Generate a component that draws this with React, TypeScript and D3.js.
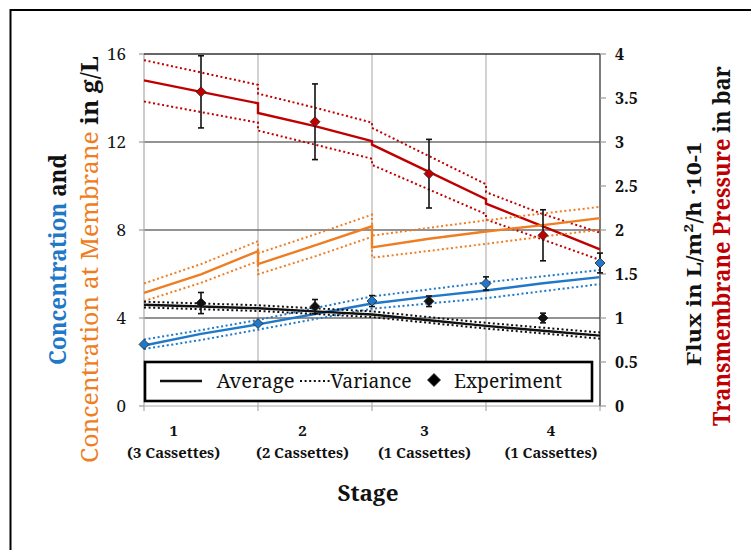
import React from "react";
import * as d3 from "d3";

// ---------- data ----------
const stageX = [0, 0.5, 1, 1, 1.5, 2, 2, 2.5, 3, 3, 3.5, 4];

// Transmembrane pressure (bar, right axis)
const tmpAvg = [3.7, 3.57, 3.44, 3.33, 3.18, 3.01, 2.97, 2.66, 2.35, 2.3, 2.04, 1.78];
const tmpUp = [3.93, 3.79, 3.65, 3.55, 3.39, 3.22, 3.16, 2.84, 2.52, 2.43, 2.18, 1.97];
const tmpLo = [3.46, 3.34, 3.22, 3.13, 2.97, 2.81, 2.74, 2.46, 2.18, 2.12, 1.89, 1.66];

// Concentration at membrane (g/L, left axis)
const memAvg = [5.14, 5.98, 7.04, 6.45, 7.3, 8.17, 7.21, 7.6, 7.93, 7.93, 8.22, 8.54];
const memUp = [5.57, 6.45, 7.49, 6.94, 7.8, 8.7, 7.74, 8.1, 8.44, 8.44, 8.75, 9.05];
const memLo = [4.77, 5.6, 6.58, 5.99, 6.8, 7.69, 6.74, 7.05, 7.37, 7.37, 7.7, 8.01];

// Concentration (g/L, left axis)
const concAvg = [2.75, 3.28, 3.71, 3.71, 4.18, 4.66, 4.66, 4.97, 5.25, 5.25, 5.58, 5.86];
const concUp = [3.02, 3.45, 3.91, 3.91, 4.45, 4.98, 4.98, 5.3, 5.62, 5.62, 5.9, 6.18];
const concLo = [2.59, 3.0, 3.47, 3.47, 3.95, 4.42, 4.42, 4.66, 4.9, 4.9, 5.22, 5.54];

// Flux (L/m²/h ·10-1, right axis)
const fluxAvg = [1.15, 1.13, 1.11, 1.11, 1.075, 1.04, 1.04, 0.975, 0.91, 0.91, 0.855, 0.8];
const fluxUp = [1.185, 1.165, 1.145, 1.145, 1.11, 1.075, 1.075, 1.01, 0.945, 0.945, 0.89, 0.835];
const fluxLo = [1.12, 1.1, 1.08, 1.08, 1.045, 1.01, 1.01, 0.945, 0.88, 0.88, 0.825, 0.765];

// Experiments
const tmpExpX = [0.5, 1.5, 2.5, 3.5];
const tmpExpY = [3.57, 3.23, 2.64, 1.94];
const tmpExpErr = [0.41, 0.43, 0.39, 0.29];

const concExpX = [0, 1, 2, 3, 4];
const concExpY = [2.8, 3.75, 4.77, 5.57, 6.5];
const concExpErr = [0, 0, 0.25, 0.3, 0.45];

const fluxExpX = [0.5, 1.5, 2.5, 3.5];
const fluxExpY = [1.17, 1.13, 1.19, 1.0];
const fluxExpErr = [0.12, 0.08, 0.06, 0.055];

const leftTicks = [0, 4, 8, 12, 16];
const rightTicks = [0, 0.5, 1, 1.5, 2, 2.5, 3, 3.5, 4];
const rightTickLabels = ["0", "0.5", "1", "1.5", "2", "2.5", "3", "3.5", "4"];
const stageTicks = [0, 1, 2, 3, 4];
const stageLabelPos = [0.26, 1.39, 2.46, 3.57];
const stageNums = ["1", "2", "3", "4"];
const stageNotes = ["(3 Cassettes)", "(2 Cassettes)", "(1 Cassettes)", "(1 Cassettes)"];

// ---------- style ----------
const BLUE = "#1f78c8";
const ORANGE = "#ef7d22";
const RED = "#c00000";
const FONT = "Noto Serif";

export default function App() {
  const x = d3.scaleLinear().domain([0, 4]).range([144, 600]);
  const yL = d3.scaleLinear().domain([0, 16]).range([406, 54]);
  const yR = d3.scaleLinear().domain([0, 4]).range([406, 54]);

  const path = (vals: number[], y: d3.ScaleLinear<number, number>) =>
    d3
      .line<number>()
      .x((_, i) => x(stageX[i]))
      .y((v) => y(v))(vals) as string;

  const dotted = { strokeWidth: 2, strokeDasharray: "2 2.6", fill: "none" };
  const solid = { strokeWidth: 2.4, fill: "none" };

  const diamond = (cx: number, cy: number, fill: string, r = 5, key?: any) => (
    <path
      key={key}
      d={`M${cx},${cy - r}L${cx + r},${cy}L${cx},${cy + r}L${cx - r},${cy}Z`}
      fill={fill}
      stroke="#222"
      strokeWidth={0.8}
    />
  );

  const errBars = (
    xs: number[],
    ys: number[],
    es: number[],
    y: d3.ScaleLinear<number, number>,
    fill: string,
    k: string
  ) =>
    xs.map((xv, i) => {
      const cx = x(xv);
      const cy = y(ys[i]);
      const t = y(ys[i] + es[i]);
      const b = y(ys[i] - es[i]);
      return (
        <g key={k + i}>
          {es[i] > 0 && (
            <g stroke="#111" strokeWidth={1.6}>
              <line x1={cx} x2={cx} y1={t} y2={b} />
              <line x1={cx - 3} x2={cx + 3} y1={t} y2={t} />
              <line x1={cx - 3} x2={cx + 3} y1={b} y2={b} />
            </g>
          )}
          {diamond(cx, cy, fill)}
        </g>
      );
    });

  return (
    <svg
      width={751}
      height={550}
      fontFamily={FONT}
      style={{ display: "block", position: "absolute", left: 0, top: 0, background: "#fff" }}
    >
      <rect x={0} y={0} width={751} height={550} fill="#fff" />
      <rect x={10.5} y={10} width={800} height={600} fill="none" stroke="#000" strokeWidth={2} />

      {/* grid */}
      {stageTicks.slice(1, 4).map((s) => (
        <line key={"vg" + s} x1={x(s)} x2={x(s)} y1={yL(16)} y2={yL(0)} stroke="#b5b5b5" strokeWidth={1.2} />
      ))}
      {[4, 8, 12].map((v) => (
        <line key={"hg" + v} x1={x(0)} x2={x(4)} y1={yL(v)} y2={yL(v)} stroke="#6e6e6e" strokeWidth={1.3} />
      ))}
      {/* axes */}
      <line x1={x(0)} x2={x(0)} y1={yL(16)} y2={yL(0)} stroke="#aaa" strokeWidth={1.2} />
      <line x1={x(0)} x2={x(4)} y1={yL(0)} y2={yL(0)} stroke="#aaa" strokeWidth={1.2} />
      <line x1={x(0)} x2={x(4)} y1={yL(16)} y2={yL(16)} stroke="#333" strokeWidth={1.6} />
      <line x1={x(4)} x2={x(4)} y1={yL(16)} y2={yL(0)} stroke="#444" strokeWidth={1.4} />
      {stageTicks.map((s) => (
        <line key={"xt" + s} x1={x(s)} x2={x(s)} y1={yL(0)} y2={yL(0) + 5} stroke="#aaa" strokeWidth={1.2} />
      ))}
      {leftTicks.map((v) => (
        <g key={"lt" + v}>
          <line x1={x(0) - 5} x2={x(0)} y1={yL(v)} y2={yL(v)} stroke="#999" strokeWidth={1.2} />
          <text x={x(0) - 18} y={yL(v) + 6} fontSize={17} textAnchor="end" fill="#111">
            {v}
          </text>
        </g>
      ))}
      {rightTicks.map((v, i) => (
        <g key={"rt" + v}>
          <line x1={x(4)} x2={x(4) + 6} y1={yR(v)} y2={yR(v)} stroke="#999" strokeWidth={1.2} />
          <text x={x(4) + 15} y={yR(v) + 6} fontSize={16} fontWeight="bold" fill="#111">
            {rightTickLabels[i]}
          </text>
        </g>
      ))}

      {/* series */}
      <path d={path(tmpUp, yR)} stroke={RED} {...dotted} />
      <path d={path(tmpLo, yR)} stroke={RED} {...dotted} />
      <path d={path(tmpAvg, yR)} stroke={RED} {...solid} />

      <path d={path(memUp, yL)} stroke={ORANGE} {...dotted} />
      <path d={path(memLo, yL)} stroke={ORANGE} {...dotted} />
      <path d={path(memAvg, yL)} stroke={ORANGE} {...solid} />

      <path d={path(concUp, yL)} stroke={BLUE} {...dotted} />
      <path d={path(concLo, yL)} stroke={BLUE} {...dotted} />
      <path d={path(concAvg, yL)} stroke={BLUE} {...solid} />

      <path d={path(fluxUp, yR)} stroke="#111" {...dotted} />
      <path d={path(fluxLo, yR)} stroke="#111" {...dotted} />
      <path d={path(fluxAvg, yR)} stroke="#111" {...solid} />

      {errBars(tmpExpX, tmpExpY, tmpExpErr, yR, RED, "te")}
      {errBars(fluxExpX, fluxExpY, fluxExpErr, yR, "#111", "fe")}
      {errBars(concExpX, concExpY, concExpErr, yL, BLUE, "ce")}

      {/* legend */}
      <rect x={145} y={362} width={447} height={39} fill="#fff" stroke="#000" strokeWidth={2.6} />
      <line x1={160} x2={202} y1={381} y2={381} stroke="#111" strokeWidth={2.4} />
      <text x={216.5} y={388} fontSize={20} textLength={78} lengthAdjust="spacingAndGlyphs" fill="#111">
        Average
      </text>
      <line x1={300} x2={330} y1={381} y2={381} stroke="#111" strokeWidth={2} strokeDasharray="2 2.6" />
      <text x={330.5} y={388} fontSize={20} textLength={81} lengthAdjust="spacingAndGlyphs" fill="#111">
        Variance
      </text>
      {diamond(434, 380, "#000", 6.5)}
      <text x={454} y={388} fontSize={20} textLength={108} lengthAdjust="spacingAndGlyphs" fill="#111">
        Experiment
      </text>

      {/* x labels */}
      {stageNums.map((n, i) => (
        <g key={"sl" + i}>
          <text x={x(stageLabelPos[i])} y={436} fontSize={15} fontWeight="bold" textAnchor="middle" fill="#111">
            {n}
          </text>
          <text
            x={x(stageLabelPos[i])}
            y={458}
            fontSize={14}
            fontWeight="bold"
            textAnchor="middle"
            textLength={93}
            lengthAdjust="spacingAndGlyphs"
            fill="#111"
          >
            {stageNotes[i]}
          </text>
        </g>
      ))}
      <text x={368} y={501} fontSize={22} fontWeight="bold" textAnchor="middle" textLength={61} lengthAdjust="spacingAndGlyphs" fill="#111">
        Stage
      </text>

      {/* left titles */}
      <text
        transform="translate(66,259.5) rotate(-90)"
        fontSize={23}
        fontWeight="bold"
        textAnchor="middle"
        textLength={211}
        lengthAdjust="spacingAndGlyphs"
      >
        <tspan fill={BLUE}>Concentration</tspan>
        <tspan fill="#111"> and</tspan>
      </text>
      <text
        transform="translate(98,259.5) rotate(-90)"
        fontSize={23}
        textAnchor="middle"
        textLength={407}
        lengthAdjust="spacingAndGlyphs"
      >
        <tspan fill={ORANGE}>Concentration at Membrane</tspan>
        <tspan fill="#111" fontWeight="bold">{"  in  g/L"}</tspan>
      </text>

      {/* right titles */}
      <text
        transform="translate(701,254) rotate(-90)"
        fontSize={20}
        fontWeight="bold"
        textAnchor="middle"
        textLength={224}
        lengthAdjust="spacingAndGlyphs"
        fill="#111"
      >
        {"Flux in  L/m²/h ·10-1"}
      </text>
      <text
        transform="translate(730,246) rotate(-90)"
        fontSize={23}
        fontWeight="bold"
        textAnchor="middle"
        textLength={360}
        lengthAdjust="spacingAndGlyphs"
      >
        <tspan fill={RED}>Transmembrane Pressure</tspan>
        <tspan fill="#111"> in bar</tspan>
      </text>
    </svg>
  );
}
